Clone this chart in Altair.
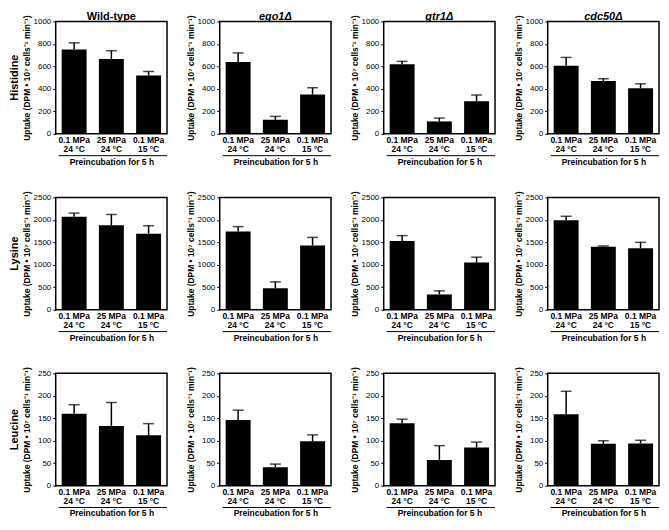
import altair as alt
import pandas as pd

FONT = "Liberation Sans"

strains = ["Wild-type", "ego1Δ", "gtr1Δ", "cdc50Δ"]
italic = [False, True, True, True]
amino_acids = ["Histidine", "Lysine", "Leucine"]
conditions = ["0.1 MPa|24 °C", "25 MPa|24 °C", "0.1 MPa|15 °C"]

# mean uptake per strain (WT, ego1, gtr1, cdc50), three conditions each
his_mean = [[750, 665, 520], [640, 125, 350], [620, 110, 290], [605, 470, 405]]
his_err = [[60, 75, 35], [80, 30, 60], [25, 30, 55], [75, 20, 40]]
lys_mean = [[2070, 1880, 1690], [1740, 480, 1430], [1530, 340, 1050], [1990, 1400, 1370]]
lys_err = [[80, 240, 180], [110, 140, 180], [120, 80, 120], [90, 20, 130]]
leu_mean = [[160, 133, 112], [146, 41, 99], [139, 57, 85], [159, 93, 94]]
leu_err = [[20, 52, 26], [22, 7, 14], [9, 32, 12], [51, 7, 7]]

means = [his_mean, lys_mean, leu_mean]
errs = [his_err, lys_err, leu_err]
y_max = [1000, 2500, 250]
y_step = [200, 500, 50]

y_title = "Uptake (DPM • 10⁷ cells⁻¹ min⁻¹)"
x_title = "Preincubation for 5 h"

W, H = 112, 113

charts = []
for r, aa in enumerate(amino_acids):
    for c, strain in enumerate(strains):
        df = pd.DataFrame({
            "cond": conditions,
            "mean": means[r][c],
            "err": errs[r][c],
        })
        df["upper"] = df["mean"] + df["err"]
        xaxis = alt.Axis(
            title=x_title, labelExpr="split(datum.label, '|')",
            labelAngle=0, ticks=False, domain=False, labelPadding=2,
            labelLineHeight=9, labelFontSize=8.5, labelFontWeight="bold",
            titleFontSize=8.5, titleFontWeight="bold", titlePadding=4,
        )
        xscale = alt.Scale(paddingInner=0.33, paddingOuter=0.16)
        yaxis = alt.Axis(
            values=list(range(0, y_max[r] + 1, y_step[r])),
            format="d", labelOverlap=False,
            title=y_title, grid=False, domain=False,
            tickSize=3, labelPadding=2, labelFontSize=8,
            minExtent=22, maxExtent=22, titlePadding=2,
            titleFontSize=8.5, titleFontWeight="bold",
        )
        yscale = alt.Scale(domain=[0, y_max[r]], nice=False)
        xenc = alt.X("cond:N", sort=conditions, scale=xscale, axis=xaxis)
        base = alt.Chart(df)
        bars = base.mark_bar(color="black").encode(
            x=xenc, y=alt.Y("mean:Q", scale=yscale, axis=yaxis))
        rule = base.mark_rule(color="black", strokeWidth=1.5).encode(
            x=xenc, y=alt.Y("mean:Q", scale=yscale, axis=yaxis),
            y2="upper:Q")
        cap = base.mark_tick(color="black", size=11, thickness=1.5).encode(
            x=xenc, y=alt.Y("upper:Q", scale=yscale, axis=yaxis))
        one = alt.Chart(pd.DataFrame({"k": [0]}))
        underline = one.mark_rule(color="black", strokeWidth=1).encode(
            x=alt.value(3), x2=alt.value(W), y=alt.value(H + 22))
        layers = [bars, rule, cap, underline]
        if c == 0:
            label = one.mark_text(
                angle=270, fontSize=11, fontWeight="bold", font=FONT,
                color="black", baseline="middle", align="center",
            ).encode(x=alt.value(-41), y=alt.value(H / 2), text=alt.value(aa))
            layers.append(label)
        ch = alt.layer(*layers).properties(width=W, height=H)
        if r == 0:
            ch = ch.properties(title=alt.TitleParams(
                strain, fontSize=11, fontWeight="bold",
                fontStyle="italic" if italic[c] else "normal",
                anchor="middle", frame="group", offset=-7, font=FONT,
                color="black"))
        charts.append(ch)

chart = alt.concat(
    *charts, columns=4,
    spacing=alt.RowColnumber(row=64, column=53),
    bounds="flush",
).properties(padding=0).configure(
    font=FONT, background="white"
).configure_view(
    stroke="black", strokeWidth=1.5
).configure_axis(
    labelFont=FONT, titleFont=FONT, labelColor="black", titleColor="black",
    tickColor="black",
).configure_axisY(
    labelOverlap=False
)

chart.save("out.html", embed_options={"renderer": "svg", "actions": False})
